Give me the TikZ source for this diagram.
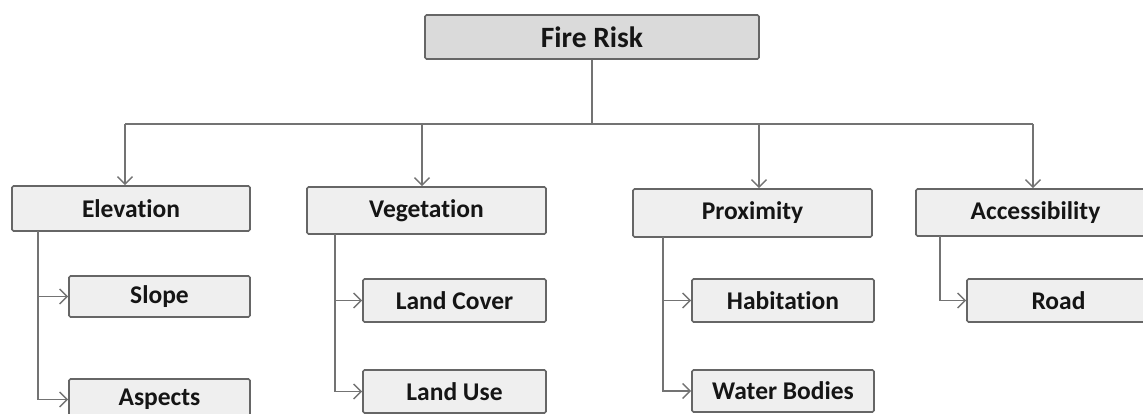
\documentclass[tikz,border=0pt]{standalone}
\usepackage{fontspec}
\setmainfont{Carlito}[Ligatures={NoCommon,NoContextual}]
\usetikzlibrary{arrows.meta}
\definecolor{boxline}{HTML}{666666}
\definecolor{conn}{HTML}{737373}
\definecolor{subfill}{HTML}{EFEFEF}
\definecolor{topfill}{HTML}{DADADA}
\definecolor{txt}{HTML}{151515}
\tikzset{
  box/.style={draw=boxline, line width=1.6pt, fill=subfill, rounded corners=1.5pt,
    inner sep=0pt, text=txt, font=\fontsize{25.5}{29}\selectfont\bfseries},
  topbox/.style={box, fill=topfill, font=\fontsize{29.5}{33}\selectfont\bfseries},
  conline/.style={draw=conn, line width=1.5pt},
  arr/.style={conline, -{Straight Barb[length=7.5pt,width=15pt,line width=1.4pt]}}
}
\begin{document}
\begin{tikzpicture}[x=1pt,y=-1pt]
\useasboundingbox (0,0) rectangle (1143,414);
\clip (0,0) rectangle (1143,414);
% boxes
\node[topbox, minimum width=334pt, minimum height=44pt] (fire) at (592,37) {Fire Risk};
\node[box, minimum width=238pt, minimum height=45pt] (elev) at (131,208.5) {Elevation};
\node[box, minimum width=239pt, minimum height=47pt] (veg) at (426.5,210.5) {Vegetation};
\node[box, minimum width=239pt, minimum height=48pt] (prox) at (752.5,213) {Proximity};
\node[box, minimum width=239pt, minimum height=47pt] (acc) at (1035.5,212.5) {Accessibility};
\node[box, minimum width=181pt, minimum height=41pt] (slope) at (159.5,296.5) {Slope};
\node[box, minimum width=181pt, minimum height=41pt] (aspects) at (159.5,399.5) {Aspects};
\node[box, minimum width=183pt, minimum height=43pt] (lcover) at (454.5,300.5) {Land Cover};
\node[box, minimum width=183pt, minimum height=43pt] (luse) at (454.5,391.5) {Land Use};
\node[box, minimum width=182pt, minimum height=43pt] (habit) at (783,300.5) {Habitation};
\node[box, minimum width=182pt, minimum height=42pt] (water) at (783,391) {Water Bodies};
\node[box, minimum width=183pt, minimum height=43pt] (road) at (1058.5,300.5) {Road};
% bus coordinates
\coordinate (be) at (125,124);
\coordinate (bv) at (422,124);
\coordinate (bp) at (759,124);
\coordinate (ba) at (1033,124);
\coordinate (e0) at (38,231);
\coordinate (v0) at (335,234);
\coordinate (p0) at (663,237);
\coordinate (a0) at (940,236);
% connectors
\draw[conline] (fire.south) -- (fire.south |- be);
\draw[conline] (be) -- (ba);
\draw[arr] (be) -- (be |- elev.north);
\draw[arr] (bv) -- (bv |- veg.north);
\draw[arr] (bp) -- (bp |- prox.north);
\draw[arr] (ba) -- (ba |- acc.north);
\draw[arr] (e0) |- (slope.west);
\draw[arr] (e0) |- (aspects.west);
\draw[arr] (v0) |- (lcover.west);
\draw[arr] (v0) |- (luse.west);
\draw[arr] (p0) |- (habit.west);
\draw[arr] (p0) |- (water.west);
\draw[arr] (a0) |- (road.west);
\end{tikzpicture}
\end{document}
